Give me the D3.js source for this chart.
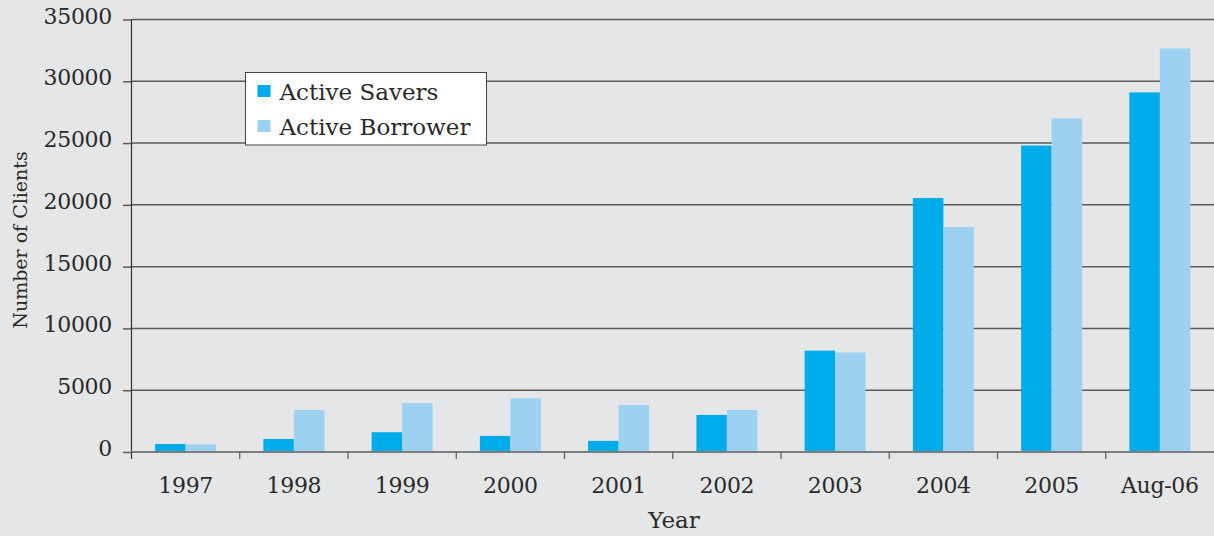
<!DOCTYPE html>
<html>
<head>
<meta charset="utf-8">
<script src="https://cdn.jsdelivr.net/npm/d3@7"></script>
<style>
    html, body { margin: 0; padding: 0; background: #e5e6e8; }
    svg { display: block; }
    svg text { font-family: "DejaVu Serif", "Liberation Serif", "Times New Roman", serif; }
</style>
</head>
<body>
<svg id="Target" width="1214" height="536"></svg>
<script>
const years = ["1997", "1998", "1999", "2000", "2001", "2002", "2003", "2004", "2005", "Aug-06"];
const seriesNames = ["Active Savers", "Active Borrower"];
const activeSavers = [650, 1050, 1600, 1300, 900, 3000, 8200, 20550, 24800, 29100];
const activeBorrowers = [600, 3400, 3950, 4350, 3800, 3400, 8050, 18200, 27000, 32650];
const yTicks = [0, 5000, 10000, 15000, 20000, 25000, 30000, 35000];

const seriesColors = ["#00abe9", "#9dd1f2"];

const margin = { left: 131.5, right: 0, top: 19.5, bottom: 452 };

const svg = d3.select("#Target");

const rows = years.map((year, i) => ({
    year,
    values: [activeSavers[i], activeBorrowers[i]]
}));

// scales
const x0 = d3.scaleBand()
    .domain(years)
    .range([margin.left, 1214])
    .padding(0);

const x1 = d3.scaleBand()
    .domain(d3.range(seriesNames.length))
    .range([0, x0.bandwidth()])
    .paddingInner(0)
    .paddingOuter(0.775);

const y = d3.scaleLinear()
    .domain([0, 35000])
    .range([margin.bottom, margin.top]);

// horizontal gridlines
svg.append("g")
    .selectAll("line.grid")
    .data(yTicks.filter(t => t > 0))
    .enter()
    .append("line")
    .attr("x1", margin.left)
    .attr("x2", 1214)
    .attr("y1", d => y(d))
    .attr("y2", d => y(d))
    .attr("stroke", "#5a5a5a")
    .attr("stroke-width", 1.5);

// bars
const group = svg.append("g")
    .selectAll("g.year")
    .data(rows)
    .enter()
    .append("g")
    .attr("transform", d => `translate(${x0(d.year)},0)`);

group.selectAll("rect")
    .data(d => d.values.map((v, i) => ({ v, i })))
    .enter()
    .append("rect")
    .attr("x", d => x1(d.i))
    .attr("width", x1.bandwidth())
    .attr("y", d => y(d.v))
    .attr("height", d => y(0) - y(d.v))
    .attr("fill", d => seriesColors[d.i]);

// y axis
const yAxis = d3.axisLeft(y)
    .tickValues(yTicks)
    .tickSize(8.5)
    .tickPadding(11)
    .tickFormat(d3.format("d"));

const yAxisG = svg.append("g")
    .attr("transform", `translate(${margin.left},0)`)
    .call(yAxis)
    .attr("font-family", null);

yAxisG.select(".domain").remove();
yAxisG.selectAll(".tick line").attr("stroke", "#5a5a5a").attr("stroke-width", 1.5);
yAxisG.selectAll(".tick text")
    .attr("font-size", 22)
    .attr("letter-spacing", -0.3)
    .attr("fill", "#2a2a2a")
    .attr("dy", "0.16em");

svg.append("line")
    .attr("x1", margin.left)
    .attr("x2", margin.left)
    .attr("y1", margin.top)
    .attr("y2", margin.bottom + 7)
    .attr("stroke", "#333")
    .attr("stroke-width", 1.2);

// x axis
const xAxis = d3.axisBottom(x0)
    .tickSize(0)
    .tickPadding(30);

const xAxisG = svg.append("g")
    .attr("transform", `translate(0,${margin.bottom})`)
    .call(xAxis)
    .attr("font-family", null);

xAxisG.select(".domain").remove();
xAxisG.selectAll(".tick text")
    .attr("font-size", 22)
    .attr("letter-spacing", -0.3)
    .attr("fill", "#2a2a2a")
    .attr("dy", "0.5em");

svg.append("line")
    .attr("x1", margin.left)
    .attr("x2", 1214)
    .attr("y1", y(0))
    .attr("y2", y(0))
    .attr("stroke", "#7d7d7d")
    .attr("stroke-width", 2);

// category separators below the baseline
svg.append("g")
    .selectAll("line.sep")
    .data(years.slice(1))
    .enter()
    .append("line")
    .attr("x1", d => x0(d))
    .attr("x2", d => x0(d))
    .attr("y1", y(0))
    .attr("y2", y(0) + 7)
    .attr("stroke", "#5a5a5a")
    .attr("stroke-width", 1.2);

// axis titles
svg.append("text")
    .attr("transform", "translate(27,240) rotate(-90)")
    .attr("text-anchor", "middle")
    .attr("font-size", 19)
    .attr("fill", "#2a2a2a")
    .text("Number of Clients");

svg.append("text")
    .attr("x", 674)
    .attr("y", 528)
    .attr("text-anchor", "middle")
    .attr("font-size", 23)
    .attr("fill", "#2a2a2a")
    .text("Year");

// legend
const legend = svg.append("g").attr("transform", "translate(245.5,72.5)");

legend.append("rect")
    .attr("width", 241)
    .attr("height", 72.5)
    .attr("fill", "#fff")
    .attr("stroke", "#444")
    .attr("stroke-width", 1);

const legendItem = legend.selectAll("g.item")
    .data(seriesNames)
    .enter()
    .append("g")
    .attr("transform", (d, i) => `translate(12,${12.5 + i * 35})`);

legendItem.append("rect")
    .attr("width", 13)
    .attr("height", 12)
    .attr("fill", (d, i) => seriesColors[i]);

legendItem.append("text")
    .attr("x", 22)
    .attr("y", 14.5)
    .attr("font-size", 23)
    .attr("fill", "#2a2a2a")
    .text(d => d);
</script>
</body>
</html>
